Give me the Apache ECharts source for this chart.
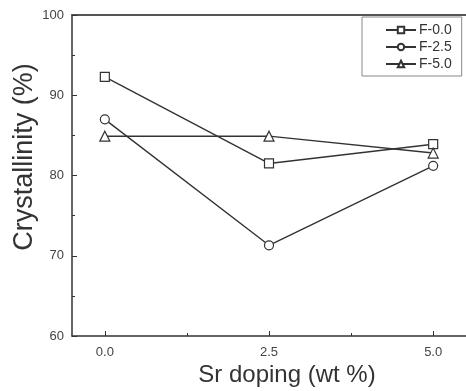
<!DOCTYPE html>
<html>
<head>
<meta charset="utf-8">
<script src="https://cdn.jsdelivr.net/npm/echarts@6/dist/echarts.min.js"></script>
<style>
  html, body { margin: 0; padding: 0; background: #fff; }
  #chart { width: 466px; height: 391px; }
</style>
</head>
<body>
<div id="chart"></div>
<script>
// Sr doping levels (wt %)
const srDoping = [0.0, 2.5, 5.0];
// Crystallinity (%) for each fluorine level
const f00 = [92.3, 81.5, 83.9];
const f25 = [87.0, 71.3, 81.2];
const f50 = [84.9, 84.9, 82.8];
const seriesNames = ['F-0.0', 'F-2.5', 'F-5.0'];
const seriesSymbols = ['rect', 'circle', 'triangle'];
const xMajorTicks = [0, 2.5, 5];
const xMinorTicks = [1.25, 3.75];
const xTitle = 'Sr doping (wt %)';
const yTitle = 'Crystallinity (%)';

const pairs = (ys) => srDoping.map((x, i) => [x, ys[i]]);
const font = 'Liberation Sans, Arial, sans-serif';

const chart = echarts.init(document.getElementById('chart'));
const mkSeries = (name, ys, symbol) => ({
  name: name,
  type: 'line',
  data: pairs(ys),
  symbol: symbol,
  symbolSize: symbol === 'triangle' ? 10 : 9,
  showAllSymbol: true,
  itemStyle: { color: '#fff', borderColor: '#333', borderWidth: 1.2 },
  lineStyle: { color: '#333', width: 1.4 },
  emphasis: { disabled: true },
  z: 3
});

chart.setOption({
  animation: false,
  backgroundColor: '#fff',
  grid: { left: 72, top: 15, right: 0, bottom: 55, containLabel: false },
  legend: {
    orient: 'vertical',
    left: 362,
    top: 17,
    data: seriesNames,
    itemWidth: 30,
    itemHeight: 8,
    itemGap: 3,
    padding: [6, 10, 5, 23],
    borderColor: '#888',
    borderWidth: 1,
    textStyle: { fontFamily: font, fontSize: 14, lineHeight: 14, color: '#333', padding: [0, 0, 0, -2] }
  },
  xAxis: [
    {
      type: 'value',
      min: -0.5,
      max: 5.5,
      position: 'bottom',
      axisLine: { show: true, onZero: false, lineStyle: { color: '#333', width: 1.5 } },
      axisTick: { show: true, inside: true, length: 5, customValues: xMajorTicks, lineStyle: { color: '#333' } },
      axisLabel: {
        customValues: xMajorTicks,
        margin: 10,
        fontFamily: font, fontSize: 13, color: '#444',
        formatter: (v) => v.toFixed(1)
      },
      splitLine: { show: false }
    },
    {
      type: 'value',
      min: -0.5,
      max: 5.5,
      position: 'bottom',
      axisLine: { show: false },
      axisTick: { show: true, inside: true, length: 3, customValues: xMinorTicks, lineStyle: { color: '#333' } },
      axisLabel: { show: false },
      splitLine: { show: false }
    },
    {
      type: 'value',
      min: -0.5,
      max: 5.5,
      position: 'top',
      axisLine: { show: true, lineStyle: { color: '#555', width: 2 } },
      axisTick: { show: false },
      axisLabel: { show: false },
      splitLine: { show: false }
    }
  ],
  yAxis: {
    type: 'value',
    min: 60,
    max: 100,
    interval: 10,
    axisLine: { show: true, onZero: false, lineStyle: { color: '#333', width: 1.5 } },
    axisTick: { show: true, inside: true, length: 5, lineStyle: { color: '#333' } },
    minorTick: { show: true, splitNumber: 2, length: 3, lineStyle: { color: '#333' } },
    axisLabel: { margin: 8, fontFamily: font, fontSize: 13, color: '#444' },
    splitLine: { show: false }
  },
  graphic: [
    {
      type: 'text',
      x: 287, y: 375,
      style: {
        text: xTitle, fontFamily: font, fontSize: 24, fill: '#333',
        align: 'center', verticalAlign: 'middle'
      }
    },
    {
      type: 'text',
      x: 25, y: 157,
      rotation: Math.PI / 2,
      style: {
        text: yTitle, fontFamily: font, fontSize: 27, fill: '#333',
        align: 'center', verticalAlign: 'middle'
      }
    }
  ],
  series: [
    mkSeries(seriesNames[0], f00, seriesSymbols[0]),
    mkSeries(seriesNames[1], f25, seriesSymbols[1]),
    mkSeries(seriesNames[2], f50, seriesSymbols[2])
  ]
});
</script>
</body>
</html>
